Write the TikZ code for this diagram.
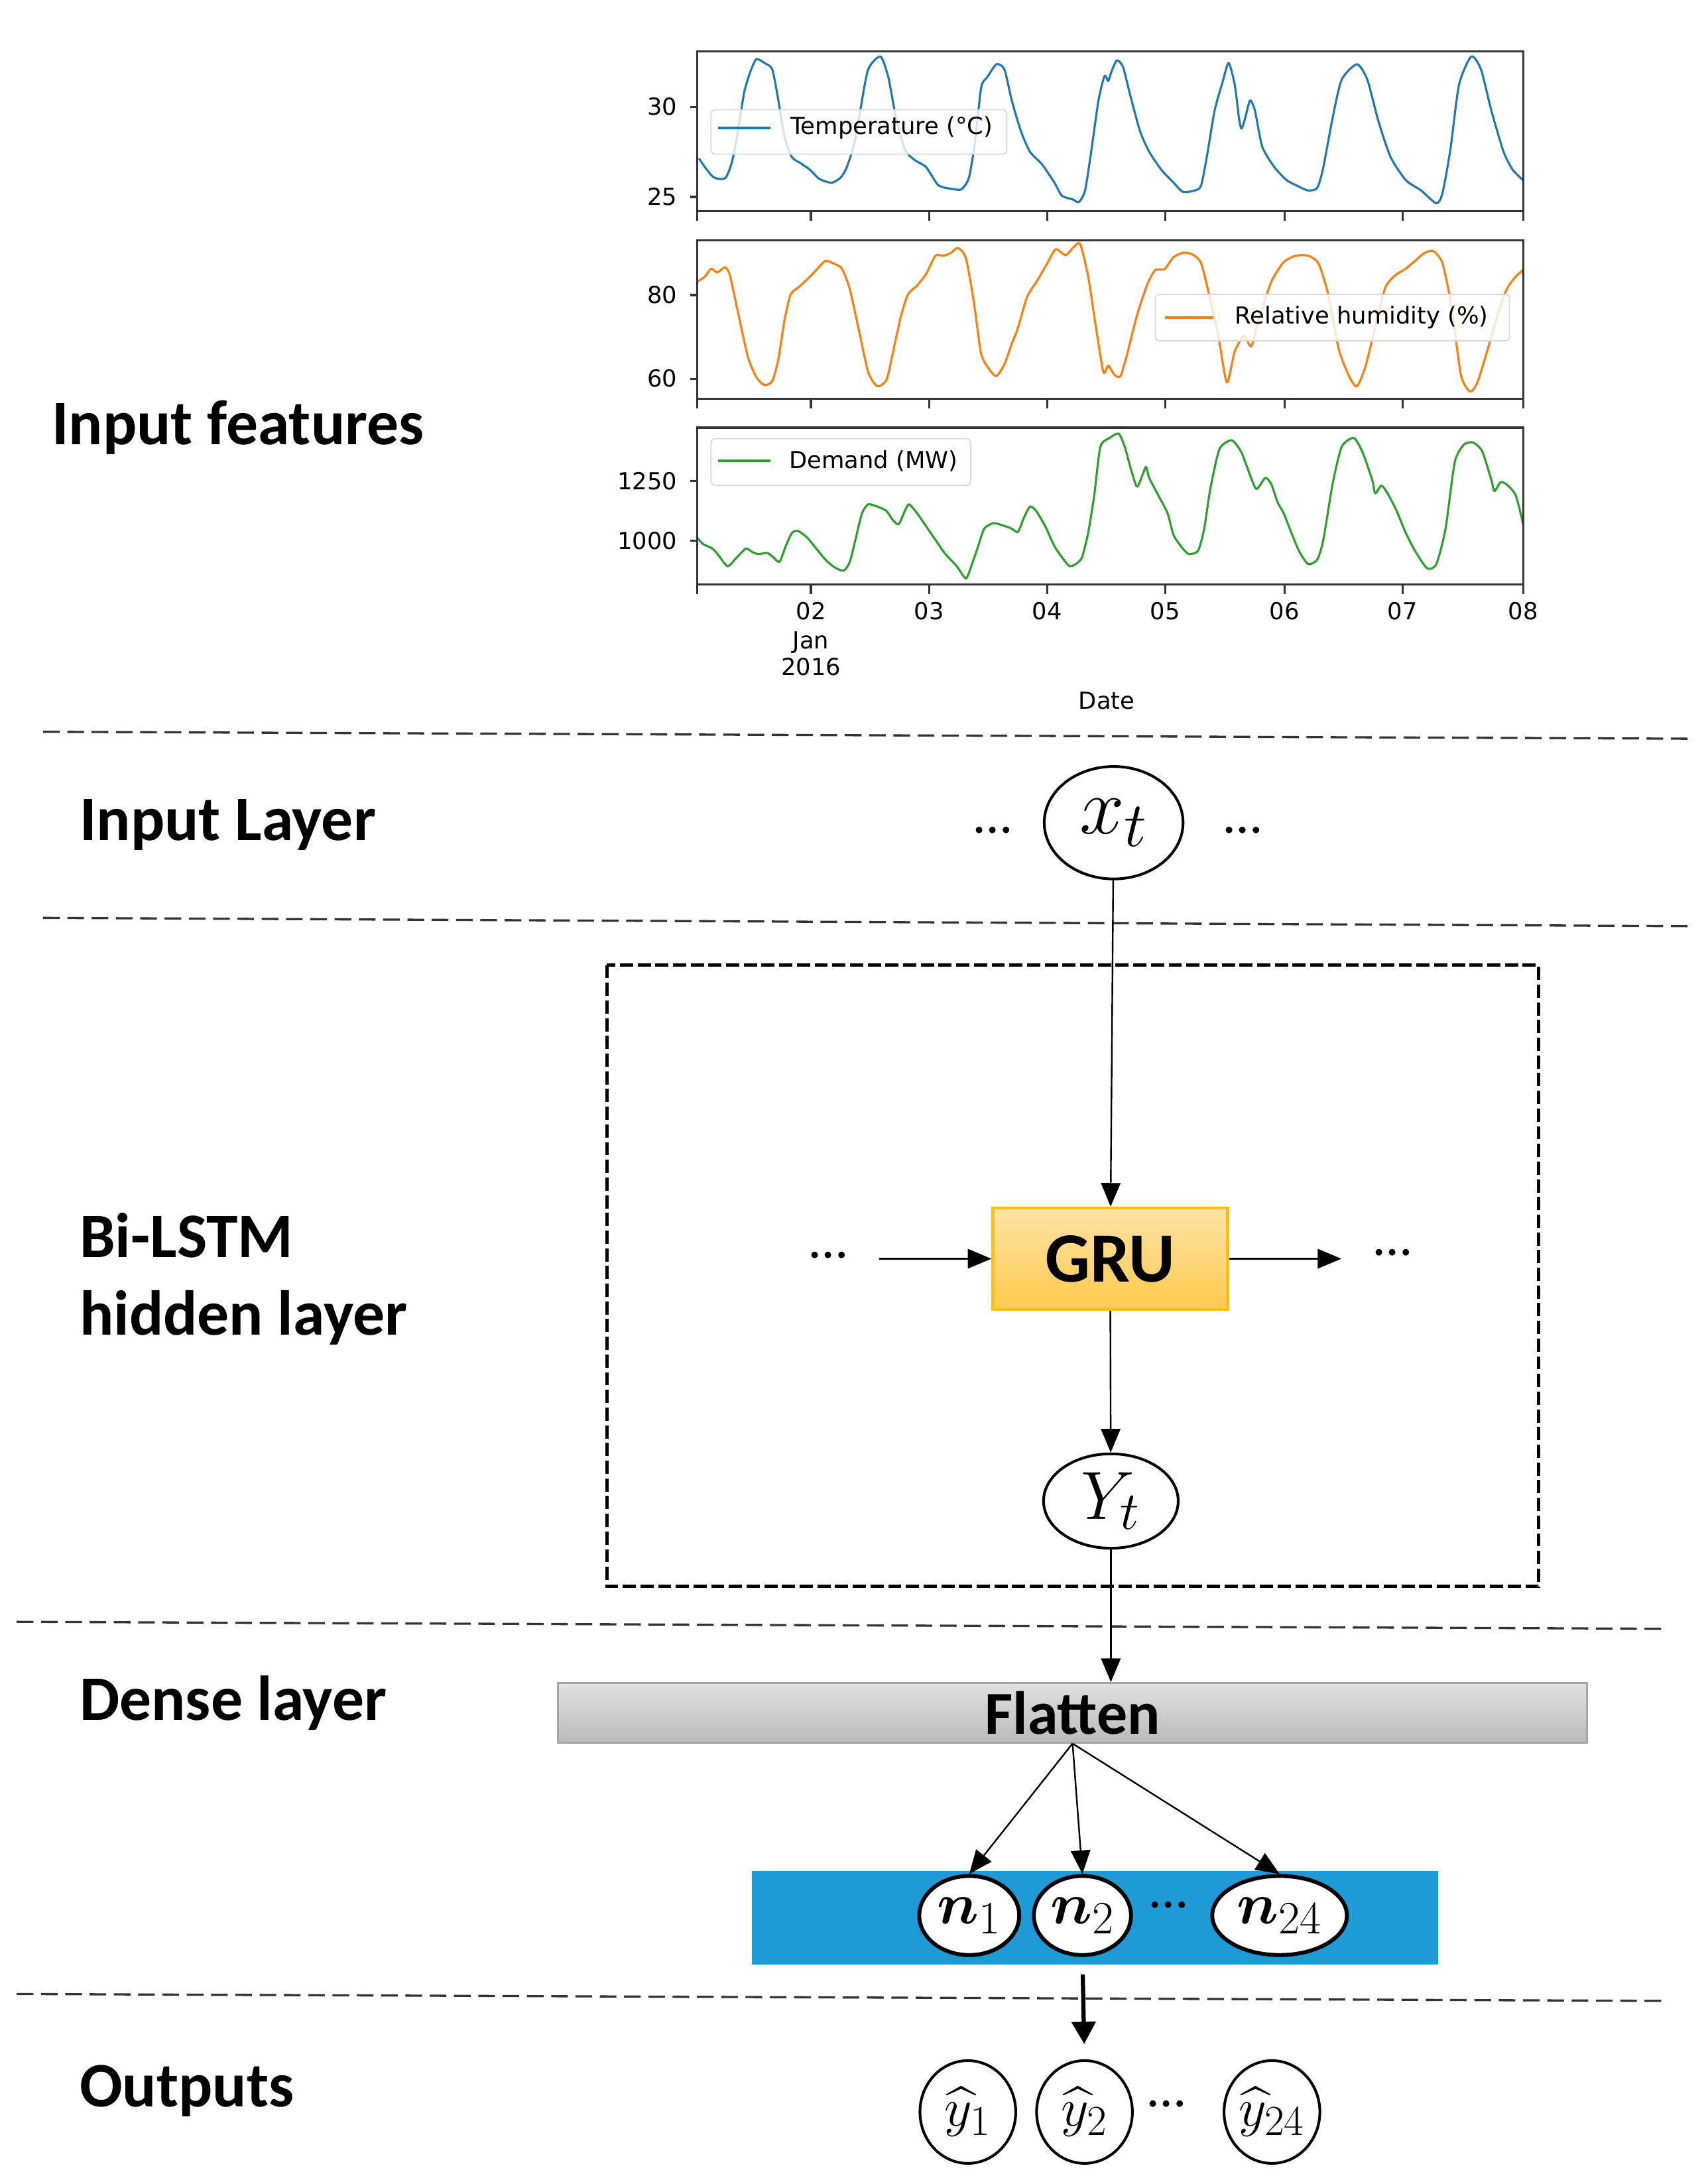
\RequirePackage{fix-cm}
\documentclass[tikz,border=0pt]{standalone}
\usepackage{amsmath, amssymb}
\usepackage{fontspec}
\setmainfont{Carlito}
\newfontfamily\plotfont{DejaVu Sans}
\usepackage{tikz}
\usetikzlibrary{arrows.meta, shapes.geometric, positioning}
\usepackage{bm}
\usepackage{color}
\DeclareMathSizes{33}{33}{26}{20}
\DeclareMathSizes{28}{28}{22}{17}
\DeclareMathSizes{24}{24}{19}{15}
\DeclareMathSizes{22}{22}{17.5}{14}
\definecolor{tempblue}{HTML}{1F77B4}
\definecolor{humorange}{HTML}{FF7F0E}
\definecolor{demgreen}{HTML}{2CA02C}
\definecolor{gruedge}{HTML}{FFC000}
\definecolor{grutop}{HTML}{FFE3A6}
\definecolor{grubot}{HTML}{FFC94D}
\definecolor{denseblue}{HTML}{1E9BD7}
\tikzstyle{sep}=[dash pattern=on 0.24cm off 0.11cm, line width=0.9pt, black!80]
\tikzstyle{boxdash}=[dash pattern=on 0.19cm off 0.065cm, line width=1.3pt]
\tikzstyle{layerlabel}=[anchor=base west, inner sep=0pt, align=left, font=\fontsize{26}{32}\selectfont\bfseries]
\tikzstyle{frame}=[line width=0.85pt, black!80]
\tikzstyle{ticklabel}=[inner sep=0pt, font=\plotfont\fontsize{9.6}{11}\selectfont]
\tikzstyle{legendbox}=[fill=white, fill opacity=0.8, draw=black!15, line width=0.5pt, rounded corners=0.06cm]
\tikzstyle{curve}=[line width=0.85pt, line join=round, smooth, tension=0.4]
\tikzstyle{arr}=[-{Triangle[length=0.34cm,width=0.28cm]}, line width=0.65pt]
\tikzstyle{thickarr}=[-{Triangle[length=0.32cm,width=0.34cm]}, line width=1.7pt]
\tikzstyle{unit}=[ellipse, draw, line width=1.1pt, inner sep=0pt, fill=white]
\tikzstyle{neuron}=[ellipse, draw, line width=1.6pt, inner sep=0pt, fill=white, minimum height=1.14cm, font=\fontsize{24}{24}\selectfont]
\tikzstyle{outunit}=[ellipse, draw, line width=1.1pt, inner sep=-2pt, fill=white, minimum height=1.48cm, minimum width=1.38cm, font=\fontsize{22}{22}\selectfont]
\tikzstyle{gate}=[draw=gruedge, line width=1.2pt, top color=grutop, bottom color=grubot, minimum width=3.38cm, minimum height=1.46cm, font=\fontsize{29}{29}\selectfont\bfseries]
\tikzstyle{flat}=[draw=black!35, line width=0.8pt, top color=black!12, bottom color=black!27, minimum width=14.83cm, minimum height=0.85cm, font=\fontsize{25}{25}\selectfont\bfseries]
\tikzstyle{dotsym}=[inner sep=0pt, font=\fontsize{22}{22}\selectfont]

\begin{document}
\begin{tikzpicture}[x=0.02cm, y=-0.02cm]
\useasboundingbox (0,0) rectangle (1230,1570);

\node[layerlabel] (lblfeat) at (37,320) {Input features};
\node[layerlabel] (lblinput) at (57,605) {Input Layer};
\node[layerlabel, anchor=west] (lblhidden) at (57,921) {Bi-LSTM\\hidden layer};
\node[layerlabel] (lbldense) at (57,1239) {Dense layer};
\node[layerlabel] (lblout) at (57,1517) {Outputs};

\foreach \xa/\ya/\xb/\yb in {31/527/1220/532, 31/661/1220/667, 12/1168/1200/1173, 12/1436/1200/1441}
  \draw[sep] (\xa,\ya) -- (\xb,\yb);

\begin{scope}[shift={(429.4,24.0)}, xscale=0.44, yscale=0.1855]
\draw[curve, tempblue] plot coordinates {(168,485) (178,520) (190,555) (200,565) (212,560) (222,500) (232,380) (242,230) (252,150) (262,100) (275,115) (288,140) (298,260) (308,400) (320,480) (335,505) (350,530) (365,565) (385,580) (400,560) (410,520) (422,430) (432,300) (445,140) (465,90) (478,170) (490,320) (505,450) (520,490) (540,520) (560,590) (585,605) (598,605) (610,560) (620,420) (630,210) (640,170) (655,120) (668,140) (680,260) (695,380) (710,460) (730,510) (750,580) (762,630) (780,645) (790,655) (800,610) (810,460) (822,260) (832,165) (838,185) (843,150) (852,105) (862,130) (875,250) (890,380) (905,460) (925,530) (945,580) (960,615) (980,610) (990,590) (1000,470) (1012,300) (1025,190) (1035,115) (1045,200) (1052,330) (1056,370) (1062,330) (1070,260) (1078,300) (1090,440) (1110,520) (1130,570) (1150,595) (1165,610) (1180,600) (1190,520) (1205,330) (1220,180) (1245,120) (1262,180) (1280,340) (1300,480) (1325,570) (1350,610) (1375,660) (1385,620) (1398,450) (1412,200) (1432,90) (1448,140) (1465,300) (1485,460) (1500,530) (1517,570)};
\end{scope}
\begin{scope}[shift={(429.4,20.2)}, xscale=0.44, yscale=0.1863]
\draw[curve, humorange] plot coordinates {(166,980) (178,960) (188,930) (198,945) (210,925) (218,950) (232,1100) (248,1270) (262,1350) (275,1380) (288,1365) (298,1280) (308,1130) (318,1030) (332,1000) (348,965) (362,930) (375,900) (388,910) (402,930) (415,1010) (430,1170) (445,1330) (460,1385) (475,1360) (485,1260) (498,1120) (510,1030) (525,995) (540,950) (555,880) (568,880) (580,870) (592,850) (605,890) (618,1060) (630,1260) (645,1325) (655,1345) (668,1300) (680,1220) (690,1160) (705,1040) (722,975) (738,910) (752,855) (768,878) (782,845) (792,835) (805,960) (818,1160) (830,1330) (838,1305) (848,1340) (858,1345) (870,1250) (885,1110) (902,990) (915,935) (930,932) (945,885) (962,868) (978,878) (990,910) (1002,1020) (1018,1190) (1032,1370) (1045,1250) (1060,1190) (1072,1230) (1085,1120) (1105,980) (1125,905) (1145,880) (1165,880) (1182,910) (1198,1030) (1215,1240) (1232,1345) (1245,1385) (1260,1300) (1278,1120) (1292,1000) (1308,955) (1325,930) (1340,900) (1355,870) (1370,862) (1385,910) (1400,1080) (1415,1340) (1430,1405) (1442,1370) (1458,1250) (1475,1110) (1490,1010) (1505,960) (1517,935)};
\end{scope}
\begin{scope}[shift={(429.4,285.2)}, xscale=0.44, yscale=0.1592]
\draw[curve, demgreen] plot coordinates {(165,640) (175,670) (190,690) (200,720) (215,770) (230,730) (245,690) (255,705) (265,715) (280,710) (290,730) (300,750) (310,680) (320,620) (330,610) (345,640) (360,690) (375,740) (390,775) (405,790) (415,750) (425,640) (435,530) (445,490) (460,500) (475,520) (485,560) (495,580) (505,520) (512,490) (525,530) (540,590) (555,650) (570,710) (590,770) (605,825) (615,760) (625,680) (635,600) (650,575) (665,585) (680,600) (690,615) (700,550) (710,500) (720,520) (735,590) (750,680) (765,740) (775,770) (785,760) (795,730) (805,620) (815,450) (825,230) (840,190) (855,170) (865,230) (875,330) (885,410) (895,350) (900,320) (905,370) (920,450) (935,530) (945,630) (960,690) (970,715) (985,700) (995,600) (1005,420) (1020,240) (1040,200) (1055,250) (1065,320) (1080,420) (1095,370) (1105,400) (1115,480) (1125,530) (1135,600) (1150,700) (1165,760) (1180,740) (1190,650) (1205,400) (1220,230) (1240,190) (1255,260) (1270,380) (1275,440) (1285,405) (1295,440) (1310,520) (1325,620) (1340,700) (1360,780) (1375,760) (1390,600) (1405,300) (1420,220) (1435,210) (1450,250) (1465,380) (1470,430) (1480,390) (1490,400) (1505,450) (1517,580)};
\end{scope}

\foreach \top/\bot in {37/152, 173/287, 308/421} {
  \draw[frame] (502,\top) rectangle (1097,\bot);
  \foreach \tx in {502,584,669,754,839,925,1010,1097}
    \draw[frame] (\tx,\bot) -- (\tx,\bot+7);
}
\foreach \ty/\tl in {76.9/30, 141.8/25, 212.5/80, 272.7/60, 346.5/1250, 389.5/1000} {
  \draw[frame] (497,\ty) -- (502,\ty);
  \node[ticklabel, anchor=east] at (488,\ty) {\tl};
}
\foreach \tx/\tl in {584/02, 669/03, 754/04, 839/05, 925/06, 1010/07, 1097/08}
  \node[ticklabel, anchor=base] at (\tx,446) {\tl};
\node[ticklabel, anchor=base] (jan) at (584,467) {Jan};
\node[ticklabel, anchor=base] (year) at (584,486.5) {2016};
\node[ticklabel, anchor=base] (datelbl) at (797,510.5) {Date};

\draw[legendbox] (512,79) rectangle (725,111);
\draw[tempblue, line width=1.1pt] (517,92) -- (555,92);
\node[ticklabel, anchor=west] (templeg) at (569,92) {Temperature (°C)};
\draw[legendbox] (832,212) rectangle (1087,245.5);
\draw[humorange, line width=1.1pt] (839,228.5) -- (874,228.5);
\node[ticklabel, anchor=west] (humleg) at (889,228.5) {Relative humidity (\%)};
\draw[legendbox] (512,316) rectangle (699,349.5);
\draw[demgreen, line width=1.1pt] (517,332) -- (555,332);
\node[ticklabel, anchor=west] (demleg) at (568,332) {Demand (MW)};

\draw[boxdash] (437,695) rectangle (1108,1142.5);

\node[unit, minimum width=2cm, minimum height=1.62cm, font=\fontsize{33}{33}\selectfont] (xt) at (802,592.5) {$x_t$};
\node[dotsym] (xtl) at (715,598) {\dots};
\node[dotsym] (xtr) at (895,598) {\dots};
\node[gate] (gru) at (799.5,906.5) {GRU};
\node[dotsym] (grul) at (596.5,904) {\dots};
\node[dotsym] (grur) at (1003,902) {\dots};
\coordinate (gruin) at (633,906.5);
\coordinate (gruout) at (966,906.5);
\node[unit, minimum width=1.94cm, minimum height=1.36cm, font=\fontsize{28}{28}\selectfont] (yt) at (800,1081) {$Y_t$};
\node[flat] (flatten) at (772.4,1233.5) {Flatten};
\node[fill=denseblue, minimum width=9.88cm, minimum height=1.35cm, inner sep=0pt] (dense) at (788.5,1381) {};
\node[neuron, minimum width=1.44cm] (n1) at (698,1379.5) {$\bm{n}_1$};
\node[neuron, minimum width=1.4cm] (n2) at (779.5,1379.5) {$\bm{n}_2$};
\node[neuron, minimum width=1.94cm] (n24) at (921.5,1379.5) {$\bm{n}_{24}$};
\node[dotsym] (ndots) at (841.5,1372) {\dots};
\node[outunit] (y1) at (697,1521) {$\widehat{y}_1$};
\node[outunit] (y2) at (781,1521) {$\widehat{y}_2$};
\node[outunit] (y24) at (916,1521) {$\widehat{y}_{24}$};
\node[dotsym] (ydots) at (840,1515) {\dots};

\draw[arr] (xt) -- (gru);
\draw[arr] (gruin) -- (gru);
\draw[arr] (gru) -- (gruout);
\draw[arr] (gru) -- (yt);
\draw[arr] (yt) -- (yt |- flatten.north);
\foreach \n in {n1,n2,n24}
  \draw[arr] (flatten.south) -- (\n.north);
\draw[thickarr, shorten <=0.25cm, shorten >=0.22cm] (n2.south) -- (y2.north);
\end{tikzpicture}
\end{document}
